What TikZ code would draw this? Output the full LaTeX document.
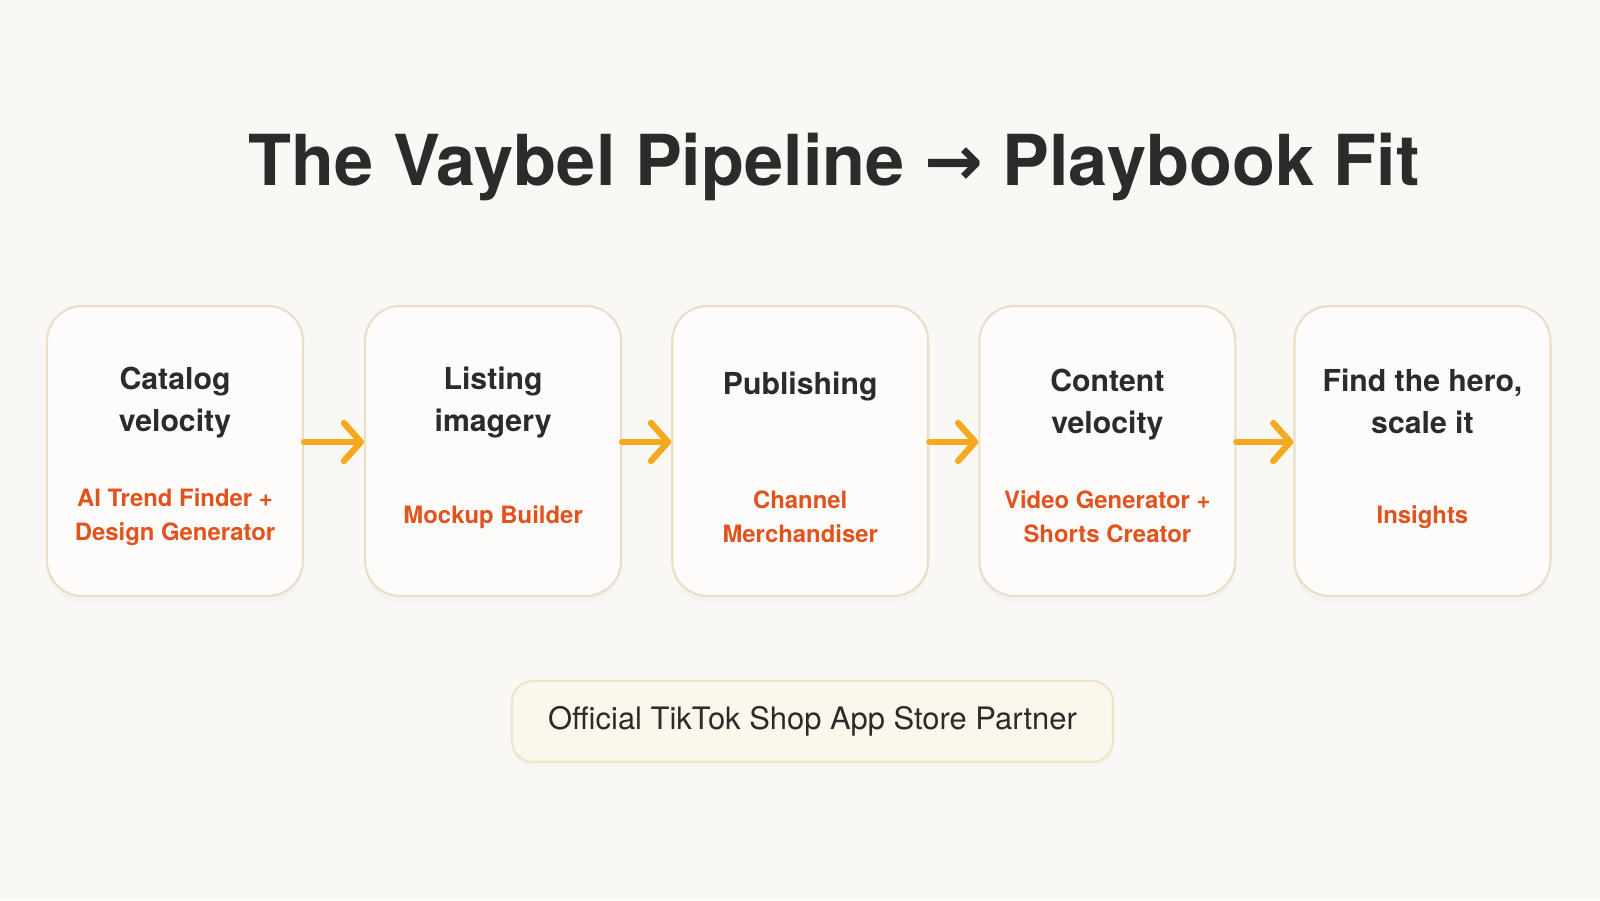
\documentclass[tikz,border=0pt]{standalone}
\usepackage{fontspec}
\setmainfont{TeX Gyre Heros}
\newfontfamily\arrowfont{DejaVu Sans}
\usepackage{xcolor}
\definecolor{pageBg}{RGB}{250, 248, 245}
\definecolor{cardFill}{RGB}{253, 252, 250}
\definecolor{cardBorder}{RGB}{234, 222, 198}
\definecolor{inkDark}{RGB}{43, 43, 43}
\definecolor{toolOrange}{RGB}{226, 82, 28}
\definecolor{arrowGold}{RGB}{244, 169, 31}
\definecolor{badgeFill}{RGB}{251, 247, 236}
\definecolor{badgeBorder}{RGB}{238, 228, 202}
\usepackage{tikz}
\usetikzlibrary{positioning, arrows.meta, shadows}

\begin{document}
\begin{tikzpicture}[
		card/.style={rectangle, rounded corners=10pt, draw=cardBorder, line width=0.6pt,
			fill=cardFill, minimum width=2.56cm, minimum height=2.9cm,
			drop shadow={opacity=0.04, shadow xshift=0pt, shadow yshift=-0.06cm}},
		stage/.style={inner sep=0pt, align=center, text=inkDark,
			font=\fontsize{8.6}{12}\selectfont\bfseries},
		tool/.style={inner sep=0pt, align=center, text=toolOrange,
			font=\fontsize{6.8}{9.7}\selectfont\bfseries},
		flow/.style={-{Straight Barb[length=1.7mm, width=3.8mm, round]}, line width=1.8pt,
			arrowGold, line cap=round},
		badge/.style={rectangle, rounded corners=6pt, draw=badgeBorder, line width=0.6pt,
			fill=badgeFill, minimum width=6.01cm, minimum height=0.81cm,
			text=inkDark, font=\fontsize{8.8}{10}\selectfont,
			drop shadow={opacity=0.04, shadow xshift=0pt, shadow yshift=-0.05cm}}
		]
		\fill[pageBg] (0,0) rectangle (16,9);

		\node[anchor=base, text=inkDark, font=\fontsize{20}{24}\selectfont\bfseries] (title)
		at (8.34,7.14) {The Vaybel Pipeline {\arrowfont\bfseries →} Playbook Fit};

		% pipeline cards
		\node[card] (c1) at (1.75,4.49) {};
		\node[card, right=0.6cm of c1] (c2) {};
		\node[card, right=0.49cm of c2] (c3) {};
		\node[card, right=0.49cm of c3] (c4) {};
		\node[card, right=0.57cm of c4] (c5) {};

		\node[stage, below=0.61cm of c1.north] (s1) {Catalog\\velocity};
		\node[stage, below=0.61cm of c2.north] (s2) {Listing\\imagery};
		\node[stage, below=0.66cm of c3.north] (s3) {Publishing};
		\node[stage, below=0.63cm of c4.north] (s4) {Content\\velocity};
		\node[stage, below=0.63cm of c5.north] (s5) {Find the hero,\\scale it};

		\node[tool] (t1) at ([yshift=-0.66cm]c1.center) {AI Trend Finder +\\Design Generator};
		\node[tool] (t2) at ([yshift=-0.66cm]c2.center) {Mockup Builder};
		\node[tool] (t3) at ([yshift=-0.66cm]c3.center) {Channel\\Merchandiser};
		\node[tool] (t4) at ([yshift=-0.66cm]c4.center) {Video Generator +\\Shorts Creator};
		\node[tool] (t5) at ([yshift=-0.66cm]c5.center) {Insights};

		\draw[flow] ([yshift=0.09cm]c1.east) -- ([yshift=0.09cm]c2.west);
		\draw[flow] ([yshift=0.09cm]c2.east) -- ([yshift=0.09cm]c3.west);
		\draw[flow] ([yshift=0.09cm]c3.east) -- ([yshift=0.09cm]c4.west);
		\draw[flow] ([yshift=0.09cm]c4.east) -- ([yshift=0.09cm]c5.west);

		\node[badge] (partner) at (8.125,1.785) {Official TikTok Shop App Store Partner};
	\end{tikzpicture}
\end{document}
